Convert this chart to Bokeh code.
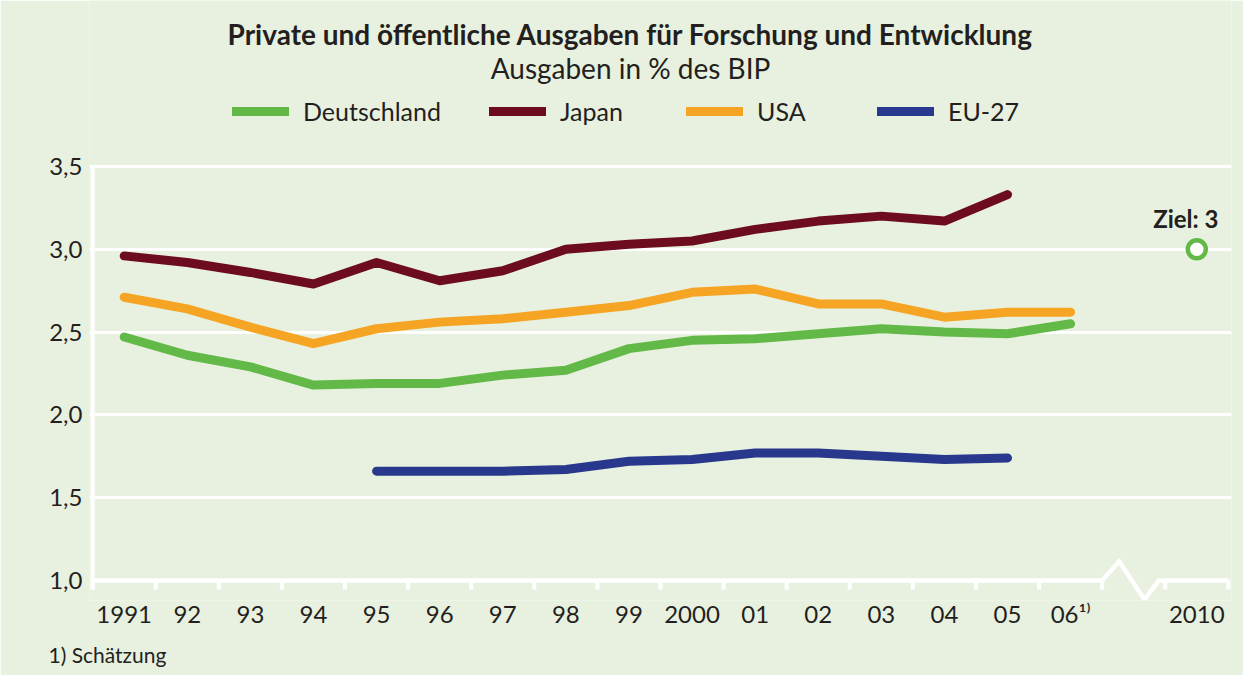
from bokeh.plotting import figure
from bokeh.models import FactorRange, Range1d, FixedTicker, Label, Legend, LegendItem, Title
from bokeh.core.properties import value
from bokeh.embed import file_html
from bokeh.resources import INLINE

# ---------------- data ----------------
years = ["1991", "92", "93", "94", "95", "96", "97", "98", "99", "2000",
         "01", "02", "03", "04", "05", "06\u00b9\u207e"]
gap = " "
target_year = "2010"

deutschland = [2.47, 2.36, 2.29, 2.18, 2.19, 2.19, 2.24, 2.27, 2.40, 2.45,
               2.46, 2.49, 2.52, 2.50, 2.49, 2.55]
japan_years = years[:15]
japan = [2.96, 2.92, 2.86, 2.79, 2.92, 2.81, 2.87, 3.00, 3.03, 3.05,
         3.12, 3.17, 3.20, 3.17, 3.33]
usa = [2.71, 2.64, 2.53, 2.43, 2.52, 2.56, 2.58, 2.62, 2.66, 2.74,
       2.76, 2.67, 2.67, 2.59, 2.62, 2.62]
eu_years = years[4:15]
eu27 = [1.66, 1.66, 1.66, 1.67, 1.72, 1.73, 1.77, 1.77, 1.75, 1.73, 1.74]
target = [3.0]

y_ticks = [1.0, 1.5, 2.0, 2.5, 3.0, 3.5]
y_labels = {t: f"{t:.1f}".replace(".", ",") for t in y_ticks}

# ---------------- style ----------------
BG = "#e8f1df"
TXT = "#231f20"
C_DE = "#62b947"
C_JP = "#6c0c1e"
C_US = "#f5a423"
C_EU = "#28388c"
FONT = "Lato"
LW = 9

factors = years + [gap, target_year]

p = figure(
    width=1243, height=675,
    x_range=FactorRange(factors=factors, range_padding=0.05, range_padding_units="absolute"),
    y_range=Range1d(0.8792, 4.502),
    output_backend="svg", toolbar_location=None,
    min_border_left=89, min_border_right=12, min_border_top=0, min_border_bottom=75,
    background_fill_color=BG, border_fill_color=BG, outline_line_color=None,
)
p.title = None

# grid
p.xgrid.grid_line_color = None
p.ygrid.ticker = FixedTicker(ticks=y_ticks[1:])
p.ygrid.grid_line_color = "white"
p.ygrid.grid_line_width = 3

# y axis (labels only; line drawn below as a segment)
p.yaxis.ticker = FixedTicker(ticks=y_ticks)
p.yaxis.major_label_overrides = y_labels
p.yaxis.axis_line_color = None
p.yaxis.major_tick_line_color = None
p.yaxis.minor_tick_line_color = None
p.yaxis.major_tick_out = 0
p.yaxis.major_tick_in = 0
p.yaxis.major_label_standoff = 7
p.yaxis.major_label_text_font = FONT
p.yaxis.major_label_text_font_size = "24px"
p.yaxis.major_label_text_color = TXT

# x axis (labels only)
p.xaxis.axis_line_color = None
p.xaxis.major_tick_line_color = None
p.xaxis.major_tick_out = 0
p.xaxis.major_tick_in = 0
p.xaxis.major_label_standoff = -2
p.xaxis.major_label_text_font = FONT
p.xaxis.major_label_text_font_size = "24px"
p.xaxis.major_label_text_color = TXT

# axis decorations: baseline with break, ticks, vertical axis line
nb = len(factors)
brk = factors.index(gap)
tick_len = 0.055
base_x = [0, brk, brk + 0.27, brk + 0.67, brk + 0.9, brk + 1, nb]
base_y = [1.0, 1.0, 1.115, 0.885, 1.0, 1.0, 1.0]
p.line(base_x, base_y, line_color="white", line_width=4.5, line_join="miter")
bounds = list(range(0, nb + 1))
p.segment(x0=bounds, y0=[1.0] * len(bounds), x1=bounds, y1=[1.0 - tick_len] * len(bounds),
          line_color="white", line_width=4)
p.segment(x0=[0], y0=[1.0 - tick_len], x1=[0], y1=[3.5], line_color="white", line_width=4)

# data lines
r_de = p.line(years, deutschland, line_color=C_DE, line_width=LW, line_cap="round", line_join="round")
r_jp = p.line(japan_years, japan, line_color=C_JP, line_width=LW, line_cap="round", line_join="round")
r_us = p.line(years, usa, line_color=C_US, line_width=LW, line_cap="round", line_join="round")
r_eu = p.line(eu_years, eu27, line_color=C_EU, line_width=LW, line_cap="round", line_join="round")

# target
p.scatter([target_year], target, size=18, line_width=4.5, line_color=C_DE, fill_color="white")
p.text([target_year], target, text=["Ziel: 3"], x_offset=-11, y_offset=-31,
       text_align="center", text_baseline="middle", text_font=value(FONT),
       text_font_style="bold", text_font_size="24px", text_color=TXT)

# legend: one entry per series, placed like the original
for label, rend, xpos in [("Deutschland", r_de, 143), ("Japan", r_jp, 400),
                          ("USA", r_us, 597), ("EU-27", r_eu, 788)]:
    lg = Legend(items=[LegendItem(label=label, renderers=[rend])], location=(xpos, 474),
                orientation="horizontal", glyph_width=57, glyph_height=20,
                label_standoff=14, padding=0, margin=0, border_line_color=None,
                background_fill_alpha=0, label_text_font=FONT,
                label_text_font_size="25px", label_text_color=TXT)
    p.add_layout(lg)

# titles and notes
p.add_layout(Label(x=541, y=567, x_units="screen", y_units="screen",
                   text="Private und öffentliche Ausgaben für Forschung und Entwicklung",
                   text_align="center", text_baseline="middle", text_font=FONT,
                   text_font_style="bold", text_font_size="28px", text_color=TXT))
p.add_layout(Label(x=541, y=533, x_units="screen", y_units="screen",
                   text="Ausgaben in % des BIP",
                   text_align="center", text_baseline="middle", text_font=FONT,
                   text_font_size="28px", text_color=TXT))
p.add_layout(Title(text="1) Schätzung", align="left", offset=-41, standoff=18,
                   text_font=FONT, text_font_style="normal", text_font_size="21px",
                   text_color=TXT), "below")

open("out.html", "w").write(file_html(p, INLINE))
